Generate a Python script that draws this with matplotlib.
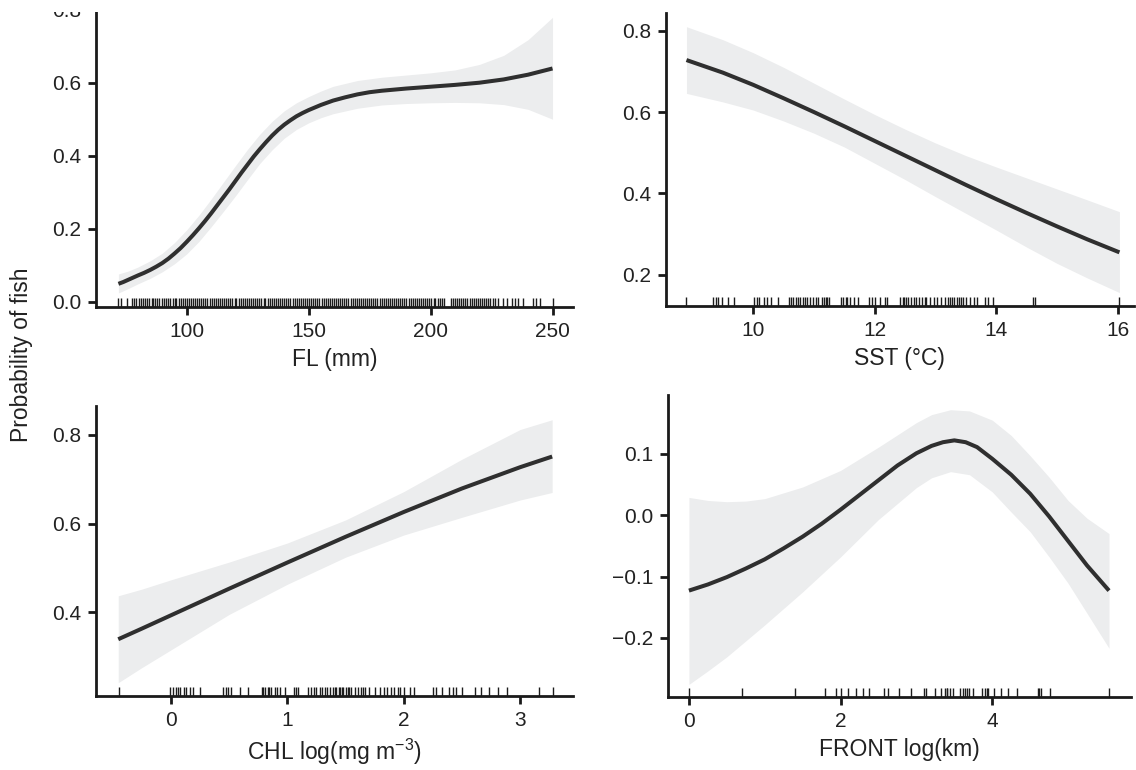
import numpy as np
import matplotlib.pyplot as plt
from matplotlib.patches import Rectangle
from matplotlib.transforms import blended_transform_factory

plt.rcParams['font.family'] = ['Liberation Sans', 'DejaVu Sans']
plt.rcParams['mathtext.fontset'] = 'custom'
plt.rcParams['mathtext.rm'] = 'Liberation Sans'
plt.rcParams['mathtext.it'] = 'Liberation Sans'

# FL panel
flX = [72, 74, 76, 78, 80, 82.5, 85, 87.5, 90, 92.5, 95, 97.5, 100, 102.5, 105,
       107.5, 110, 112.5, 115, 117.5, 120, 122.5, 125, 127.5, 130, 132.5, 135,
       137.5, 140, 142.5, 145, 147.5, 150, 155, 160, 165, 170, 175, 180, 190,
       200, 210, 220, 230, 240, 250]
flFit = [0.049, 0.054, 0.060, 0.066, 0.072, 0.079, 0.087, 0.096, 0.106, 0.118,
         0.132, 0.147, 0.164, 0.182, 0.201, 0.221, 0.242, 0.264, 0.286, 0.308,
         0.331, 0.354, 0.376, 0.398, 0.418, 0.437, 0.455, 0.471, 0.485, 0.497,
         0.508, 0.517, 0.525, 0.539, 0.551, 0.560, 0.568, 0.574, 0.578, 0.584,
         0.589, 0.594, 0.600, 0.609, 0.622, 0.639]
flBandX = [72, 76, 80, 85, 90, 95, 100, 105, 110, 115, 120, 125, 130, 135, 140,
           145, 150, 155, 160, 170, 180, 190, 200, 210, 220, 230, 240, 250]
flUp = [0.076, 0.084, 0.095, 0.112, 0.133, 0.162, 0.197, 0.237, 0.281, 0.327,
        0.373, 0.418, 0.459, 0.494, 0.523, 0.545, 0.562, 0.577, 0.590, 0.606,
        0.615, 0.621, 0.627, 0.635, 0.650, 0.675, 0.718, 0.779]
flLo = [0.024, 0.036, 0.049, 0.064, 0.082, 0.104, 0.131, 0.165, 0.205, 0.247,
        0.290, 0.335, 0.379, 0.416, 0.448, 0.472, 0.490, 0.504, 0.515, 0.530,
        0.539, 0.543, 0.545, 0.546, 0.545, 0.540, 0.527, 0.500]
flRug = [72, 73.1, 75.6, 77.4, 78.5, 79.3, 80.4, 81.2, 82, 82.9, 83.7, 84.5, 85.6,
         86.3, 87.1, 88, 88.8, 89.9, 90.6, 91.5, 92.2, 93.1, 94.3, 95, 95.8, 96.7,
         97.5, 98.4, 99.2, 100.1, 101, 101.7, 102.6, 103.5, 104.2, 105.1, 106,
         106.8, 107.7, 108.5, 109.4, 110.2, 111, 111.9, 112.8, 113.6, 114.5,
         115.3, 116.1, 117, 117.9, 118.7, 119.6, 120.4, 121.3, 122.1, 123, 123.8,
         124.7, 125.5, 126.4, 127.2, 128.1, 128.9, 129.8, 130.6, 131.5, 132.3,
         133.2, 134, 134.9, 135.7, 136.6, 137.4, 138.3, 139.1, 140, 140.8, 141.7,
         142.5, 143.4, 144.2, 145.1, 145.9, 146.8, 147.6, 148.5, 149.3, 150.2, 151,
         151.9, 152.7, 153.6, 154.4, 155.3, 156.1, 157, 157.8, 158.7, 159.5, 160.4,
         161.2, 162.1, 162.9, 163.8, 164.6, 165.5, 166.3, 167.2, 168, 168.9, 169.7,
         170.6, 171.4, 172.3, 173.1, 174, 174.8, 175.7, 176.5, 177.4, 178.2, 179.1,
         179.9, 180.8, 181.6, 182.5, 183.3, 184.2, 185, 185.9, 186.7, 187.6, 188.4,
         189.3, 190.1, 191, 191.8, 192.7, 193.5, 194.4, 195.2, 196.1, 196.9, 197.8,
         198.6, 199.5, 200.3, 201.2, 202, 202.9, 203.7, 204.6, 205.4, 208.3, 209.2,
         210, 210.9, 211.7, 212.6, 213.4, 214.3, 215.1, 216, 216.8, 217.7, 218.5,
         219.4, 220.2, 221.1, 222, 222.8, 223.7, 224.5, 225.4, 226.3, 227.8, 229.9,
         231.5, 233.3, 234.7, 236, 238.1, 241.9, 243.3, 245, 250]

# SST panel
sstX = [8.9, 9.5, 10, 10.5, 11, 11.5, 12, 12.5, 13, 13.5, 14, 14.5, 15, 15.5, 16.03]
sstFit = [0.728, 0.697, 0.667, 0.634, 0.600, 0.565, 0.529, 0.493, 0.457, 0.421,
          0.386, 0.352, 0.319, 0.287, 0.255]
sstUp = [0.810, 0.778, 0.746, 0.710, 0.671, 0.632, 0.594, 0.558, 0.524, 0.493,
         0.465, 0.438, 0.411, 0.384, 0.355]
sstLo = [0.646, 0.625, 0.605, 0.578, 0.548, 0.514, 0.474, 0.434, 0.392, 0.351,
         0.310, 0.268, 0.228, 0.192, 0.156]
sstRug = [8.89, 9.33, 9.38, 9.42, 9.49, 9.58, 9.69, 10.01, 10.06, 10.10, 10.18,
          10.23, 10.30, 10.40, 10.59, 10.62, 10.65, 10.70, 10.74, 10.77, 10.82,
          10.86, 10.89, 10.94, 10.98, 11.03, 11.07, 11.13, 11.16, 11.19, 11.22,
          11.25, 11.44, 11.47, 11.52, 11.55, 11.60, 11.66, 11.72, 11.90, 11.96,
          12.01, 12.09, 12.17, 12.21, 12.42, 12.46, 12.49, 12.52, 12.55, 12.60,
          12.64, 12.68, 12.73, 12.78, 12.82, 12.85, 12.91, 12.97, 13.03, 13.09,
          13.15, 13.20, 13.24, 13.27, 13.31, 13.36, 13.39, 13.42, 13.45, 13.51,
          13.57, 13.63, 13.69, 13.81, 13.87, 13.94, 14.61, 14.64, 16.03]

# CHL panel
chlX = [-0.453, -0.25, 0, 0.5, 1, 1.5, 2, 2.5, 3, 3.275]
chlFit = [0.339, 0.363, 0.393, 0.453, 0.512, 0.570, 0.626, 0.679, 0.727, 0.751]
chlUp = [0.437, 0.452, 0.473, 0.513, 0.556, 0.608, 0.672, 0.745, 0.812, 0.834]
chlLo = [0.241, 0.275, 0.315, 0.395, 0.463, 0.524, 0.574, 0.614, 0.653, 0.670]
chlRug = [-0.45, -0.01, 0.02, 0.04, 0.06, 0.08, 0.11, 0.13, 0.16, 0.19, 0.25,
          0.45, 0.47, 0.49, 0.52, 0.59, 0.66, 0.78, 0.79, 0.81, 0.83, 0.84, 0.86,
          0.89, 0.91, 0.94, 0.98, 1.06, 1.07, 1.09, 1.18, 1.20, 1.23, 1.25, 1.28,
          1.30, 1.32, 1.34, 1.37, 1.39, 1.41, 1.42, 1.44, 1.45, 1.47, 1.48, 1.50,
          1.52, 1.53, 1.55, 1.58, 1.61, 1.63, 1.65, 1.67, 1.70, 1.75, 1.80, 1.83,
          1.86, 1.89, 1.92, 1.95, 1.97, 2.00, 2.05, 2.09, 2.25, 2.28, 2.33, 2.39,
          2.42, 2.45, 2.50, 2.61, 2.66, 2.73, 2.81, 2.89, 3.16, 3.28]

# FRONT panel
frX = [0, 0.25, 0.5, 0.75, 1, 1.25, 1.5, 1.75, 2, 2.25, 2.5, 2.75, 3, 3.2, 3.35,
       3.5, 3.65, 3.8, 4, 4.25, 4.5, 4.75, 5, 5.25, 5.54]
frFit = [-0.123, -0.113, -0.101, -0.087, -0.072, -0.054, -0.035, -0.014, 0.009,
         0.033, 0.057, 0.081, 0.101, 0.113, 0.119, 0.122, 0.119, 0.111, 0.092,
         0.066, 0.035, -0.002, -0.042, -0.082, -0.123]
frBandX = [0, 0.25, 0.5, 0.75, 1, 1.5, 2, 2.5, 3, 3.2, 3.45, 3.7, 4, 4.25, 4.5,
           4.75, 5, 5.25, 5.54]
frUp = [0.029, 0.024, 0.022, 0.023, 0.027, 0.046, 0.073, 0.111, 0.151, 0.164,
        0.172, 0.170, 0.155, 0.130, 0.097, 0.062, 0.024, -0.005, -0.030]
frLo = [-0.276, -0.254, -0.231, -0.205, -0.179, -0.125, -0.068, -0.007, 0.045,
        0.061, 0.071, 0.066, 0.038, 0.005, -0.027, -0.068, -0.111, -0.160, -0.217]
frRug = [0, 0.70, 1.40, 1.79, 1.94, 2.01, 2.10, 2.20, 2.30, 2.38, 2.57, 2.63, 2.77,
         2.93, 3.10, 3.12, 3.24, 3.33, 3.38, 3.40, 3.41, 3.44, 3.48, 3.57, 3.62,
         3.64, 3.67, 3.70, 3.75, 3.87, 3.90, 3.93, 3.95, 4.02, 4.12, 4.21, 4.33,
         4.60, 4.62, 4.64, 4.76, 5.54]

W, H = 1136, 770
fig = plt.figure(figsize=(W / 100, H / 100), dpi=100)


def makeAxes(left, right, top, bottom):
    return fig.add_axes([left / W, 1 - bottom / H, (right - left) / W, (bottom - top) / H])


def drawPanel(ax, x, fit, bandX, up, lo, rug, xlim, ylim, xticks, yticks, xlabel):
    ax.fill_between(bandX, lo, up, color='#ecedee', lw=0)
    ax.plot(x, fit, color='#2f2f2f', lw=2.9, solid_capstyle='butt')
    trans = blended_transform_factory(ax.transData, ax.transAxes)
    ax.vlines(rug, 0, 0.031, transform=trans, color='#1c1c1c', lw=1.0)
    ax.set_xlim(*xlim)
    ax.set_ylim(*ylim)
    ax.set_xticks(xticks)
    ax.set_yticks(yticks)
    ax.set_yticklabels(['{:.1f}'.format(v).replace('-', '\u2212') for v in yticks])
    ax.spines['top'].set_visible(False)
    ax.spines['right'].set_visible(False)
    for side in ['left', 'bottom']:
        ax.spines[side].set_linewidth(2.0)
        ax.spines[side].set_color('#1a1a1a')
        ax.spines[side].set_capstyle('projecting')
    ax.tick_params(direction='out', length=5.5, width=2.0, color='#1a1a1a',
                   labelsize=15, labelcolor='#222222', pad=5)
    ax.set_xlabel(xlabel, fontsize=16.5, color='#222222', labelpad=5)


axFL = makeAxes(96, 573, 2.4, 307.3)
drawPanel(axFL, flX, flFit, flBandX, flUp, flLo, flRug, (62.8, 258.4), (-0.0153, 0.82),
          [100, 150, 200, 250], [0.0, 0.2, 0.4, 0.6, 0.8], 'FL (mm)')

axSST = makeAxes(665.7, 1134, 13.3, 306)
drawPanel(axSST, sstX, sstFit, sstX, sstUp, sstLo, sstRug, (8.558, 16.27), (0.123, 0.843),
          [10, 12, 14, 16], [0.2, 0.4, 0.6, 0.8], 'SST (°C)')

axCHL = makeAxes(96, 573, 406, 696)
drawPanel(axCHL, chlX, chlFit, chlX, chlUp, chlLo, chlRug, (-0.644, 3.454), (0.211, 0.865),
          [0, 1, 2, 3], [0.4, 0.6, 0.8], 'CHL log(mg m$^{-3}$)')

axFR = makeAxes(668, 1131, 395, 697.3)
drawPanel(axFR, frX, frFit, frBandX, frUp, frLo, frRug, (-0.276, 5.83), (-0.297, 0.196),
          [0, 2, 4], [-0.2, -0.1, 0.0, 0.1], 'FRONT log(km)')

fig.text(22 / W, 1 - 355 / H, 'Probability of fish', rotation=90, ha='center',
         va='center', fontsize=16.5, color='#222222')

# the top edge of the original is cut off
fig.add_artist(Rectangle((0, 1 - 12 / H), 1, 12 / H, transform=fig.transFigure,
                         facecolor='white', edgecolor='none', zorder=10))

fig.savefig('out.png', dpi=100)
